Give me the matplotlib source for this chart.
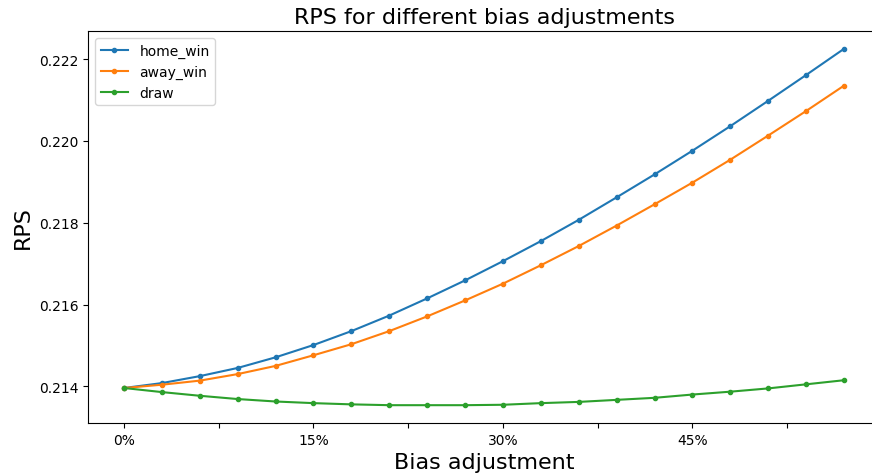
import matplotlib
matplotlib.use("Agg")
import matplotlib.pyplot as plt

# bias adjustment steps (fraction) and RPS per outcome adjusted
bias = [0.00, 0.03, 0.06, 0.09, 0.12, 0.15, 0.18, 0.21, 0.24, 0.27,
        0.30, 0.33, 0.36, 0.39, 0.42, 0.45, 0.48, 0.51, 0.54, 0.57]
home_win = [0.21396, 0.21408, 0.21425, 0.21445, 0.21471, 0.21501, 0.21535, 0.21573, 0.21615, 0.21659,
            0.21706, 0.21755, 0.21807, 0.21862, 0.21918, 0.21976, 0.22036, 0.22098, 0.22161, 0.22225]
away_win = [0.21396, 0.21404, 0.21414, 0.21430, 0.21450, 0.21476, 0.21503, 0.21535, 0.21571, 0.21610,
            0.21651, 0.21696, 0.21743, 0.21793, 0.21845, 0.21898, 0.21954, 0.22013, 0.22073, 0.22135]
draw = [0.21396, 0.21386, 0.21377, 0.21369, 0.21363, 0.21359, 0.21356, 0.21354, 0.21354, 0.21354,
        0.21355, 0.21359, 0.21362, 0.21367, 0.21372, 0.21380, 0.21387, 0.21395, 0.21405, 0.21415]

xticks = [0.0, 0.075, 0.15, 0.225, 0.30, 0.375, 0.45, 0.525]
xticklabels = ["0%", "", "15%", "", "30%", "", "45%", ""]

fig = plt.figure(figsize=(8.72, 4.77), dpi=100)
ax = fig.add_axes([88 / 872, 53 / 477, 792 / 872, 392 / 477])

ax.plot(bias, home_win, marker=".", label="home_win")
ax.plot(bias, away_win, marker=".", label="away_win")
ax.plot(bias, draw, marker=".", label="draw")

ax.set_xticks(xticks)
ax.set_xticklabels(xticklabels)
ax.set_title("RPS for different bias adjustments", fontsize=16)
ax.set_xlabel("Bias adjustment", fontsize=16)
ax.set_ylabel("RPS", fontsize=16)
ax.legend(loc="upper left")

fig.savefig("out.png", dpi=100)
